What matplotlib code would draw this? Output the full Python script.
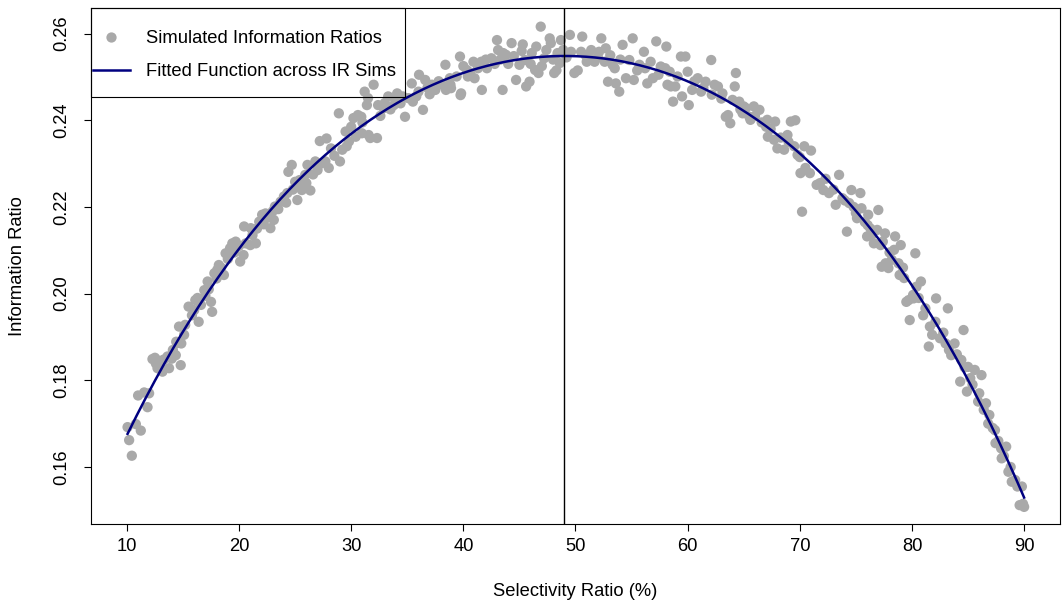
import numpy as np
import matplotlib
matplotlib.use("Agg")
import matplotlib.pyplot as plt
from matplotlib.patches import Rectangle
from matplotlib.lines import Line2D

plt.rcParams['font.family'] = ['Liberation Sans', 'DejaVu Sans']

# ---- data: selectivity ratio (%) and simulated information ratios ----
sel_lo = [10.06, 10.20, 10.44, 10.80, 11.00, 11.24, 11.54, 11.84, 11.98, 12.28,
          12.50, 12.58, 12.73, 12.90, 13.00, 13.17, 13.30, 13.62, 13.76, 14.00,
          14.10, 14.36, 14.40, 14.50, 14.65, 14.80, 14.85, 15.10, 15.20, 15.50,
          15.80, 16.00, 16.10, 16.30, 16.40, 16.60, 16.90, 17.00, 17.20, 17.30,
          17.50, 17.60, 17.80, 18.00, 18.06, 18.20, 18.40, 18.65, 18.80, 19.00,
          19.20, 19.40, 19.60, 19.70, 20.00, 20.10, 20.40, 20.45, 20.60, 21.00,
          21.05, 21.20, 21.50, 21.60, 21.80, 22.06, 22.20, 22.36, 22.50, 22.80,
          23.00, 23.10, 23.20, 23.50, 23.70, 24.00, 24.20, 24.30, 24.40, 24.70,
          24.80, 25.00, 25.20, 25.25, 25.40, 25.60, 25.90, 26.00, 26.10, 26.36,
          26.60, 26.80, 27.00, 27.20, 27.30, 27.70, 27.80, 28.00, 28.20, 28.50,
          28.90, 29.00, 29.20, 29.50, 29.60, 29.80]
ir_lo = [0.1692, 0.1662, 0.1626, 0.1699, 0.1765, 0.1684, 0.1772, 0.1738, 0.1770, 0.1849,
         0.1852, 0.1839, 0.1828, 0.1845, 0.1832, 0.1820, 0.1848, 0.1855, 0.1828, 0.1850,
         0.1870, 0.1858, 0.1889, 0.1886, 0.1924, 0.1835, 0.1885, 0.1905, 0.1928, 0.1970,
         0.1950, 0.1962, 0.1985, 0.1990, 0.1935, 0.1974, 0.2008, 0.1995, 0.2028, 0.2010,
         0.1981, 0.1958, 0.2047, 0.2035, 0.2055, 0.2066, 0.2060, 0.2043, 0.2093, 0.2080,
         0.2105, 0.2116, 0.2095, 0.2120, 0.2110, 0.2074, 0.2089, 0.2155, 0.2116, 0.2112,
         0.2151, 0.2135, 0.2116, 0.2150, 0.2166, 0.2182, 0.2160, 0.2185, 0.2175, 0.2151,
         0.2190, 0.2170, 0.2201, 0.2195, 0.2212, 0.2224, 0.2210, 0.2232, 0.2281, 0.2297,
         0.2240, 0.2258, 0.2216, 0.2247, 0.2262, 0.2239, 0.2274, 0.2255, 0.2297, 0.2238,
         0.2275, 0.2305, 0.2285, 0.2352, 0.2300, 0.2305, 0.2358, 0.2290, 0.2335, 0.2318,
         0.2416, 0.2305, 0.2332, 0.2374, 0.2340, 0.2351]

sel_mid = [30.00, 30.20, 30.40, 30.60, 30.90, 30.95, 31.00, 31.20, 31.40, 31.50,
           31.55, 31.70, 32.00, 32.30, 32.40, 32.60, 32.90, 33.00, 33.30, 33.50,
           33.80, 34.00, 34.10, 34.40, 34.60, 34.80, 35.10, 35.40, 35.50, 35.80,
           36.00, 36.05, 36.40, 36.60, 36.80, 37.00, 37.20, 37.50, 37.80, 38.10,
           38.40, 38.45, 38.80, 38.85, 38.90, 39.40, 39.70, 39.75, 39.80, 40.00,
           40.30, 40.40, 40.60, 40.90, 41.00, 41.30, 41.60, 41.65, 42.00, 42.10,
           42.50, 42.80, 43.00, 43.10, 43.30, 43.50, 43.55, 43.80, 44.00, 44.30,
           44.50, 44.70, 45.00, 45.20, 45.30, 45.50, 45.60, 45.90, 46.00, 46.10,
           46.40, 46.50, 46.70, 46.90, 47.00, 47.20, 47.40, 47.70, 47.80, 48.00,
           48.10, 48.30, 48.40, 48.60, 48.70, 48.90, 49.20, 49.50, 49.60, 49.90,
           50.20, 50.50, 50.60, 50.90, 51.00, 51.20, 51.40, 51.70, 52.00, 52.10,
           52.30, 52.60, 52.70, 52.90, 53.10, 53.30, 53.50, 53.60, 53.90, 54.00,
           54.20, 54.50, 54.80, 55.10, 55.20, 55.50, 55.70, 56.10, 56.20, 56.40,
           56.70, 56.90, 57.20, 57.40, 57.60, 58.00, 58.10, 58.20, 58.40, 58.50,
           58.70, 58.90, 59.10, 59.40, 59.50, 59.80]
ir_mid = [0.2385, 0.2405, 0.2362, 0.2412, 0.2408, 0.2370, 0.2395, 0.2466, 0.2435, 0.2451,
          0.2366, 0.2359, 0.2482, 0.2359, 0.2435, 0.2410, 0.2428, 0.2440, 0.2455, 0.2425,
          0.2435, 0.2448, 0.2462, 0.2439, 0.2455, 0.2408, 0.2451, 0.2485, 0.2443, 0.2455,
          0.2466, 0.2505, 0.2424, 0.2493, 0.2475, 0.2460, 0.2482, 0.2470, 0.2490, 0.2482,
          0.2528, 0.2470, 0.2497, 0.2482, 0.2474, 0.2501, 0.2547, 0.2458, 0.2462, 0.2525,
          0.2516, 0.2501, 0.2510, 0.2535, 0.2497, 0.2520, 0.2535, 0.2470, 0.2540, 0.2520,
          0.2543, 0.2530, 0.2585, 0.2562, 0.2540, 0.2470, 0.2555, 0.2551, 0.2530, 0.2578,
          0.2548, 0.2493, 0.2528, 0.2560, 0.2575, 0.2539, 0.2478, 0.2489, 0.2530, 0.2555,
          0.2516, 0.2570, 0.2509, 0.2616, 0.2525, 0.2543, 0.2562, 0.2589, 0.2578, 0.2540,
          0.2509, 0.2515, 0.2555, 0.2532, 0.2585, 0.2562, 0.2545, 0.2597, 0.2558, 0.2509,
          0.2515, 0.2558, 0.2593, 0.2550, 0.2535, 0.2548, 0.2562, 0.2535, 0.2545, 0.2558,
          0.2589, 0.2535, 0.2566, 0.2489, 0.2550, 0.2528, 0.2520, 0.2485, 0.2466, 0.2540,
          0.2574, 0.2497, 0.2539, 0.2589, 0.2493, 0.2515, 0.2528, 0.2558, 0.2520, 0.2485,
          0.2535, 0.2497, 0.2582, 0.2505, 0.2524, 0.2520, 0.2570, 0.2482, 0.2512, 0.2478,
          0.2443, 0.2478, 0.2501, 0.2547, 0.2455, 0.2547]

sel_hi = [60.00, 60.10, 60.40, 60.60, 60.90, 61.20, 61.40, 61.60, 62.10, 62.15,
          62.40, 62.70, 63.00, 63.10, 63.40, 63.60, 63.80, 64.00, 64.20, 64.30,
          64.60, 64.70, 64.90, 65.00, 65.20, 65.50, 65.60, 65.90, 66.00, 66.40,
          66.60, 67.00, 67.10, 67.15, 67.40, 67.70, 67.80, 68.00, 68.30, 68.60,
          68.90, 69.00, 69.20, 69.50, 69.60, 69.80, 70.00, 70.06, 70.20, 70.40,
          70.50, 70.90, 71.00, 71.50, 71.80, 72.10, 72.30, 72.60, 73.00, 73.20,
          73.50, 73.80, 74.00, 74.20, 74.40, 74.60, 74.80, 75.00, 75.10, 75.40,
          75.50, 75.80, 76.00, 76.05, 76.10, 76.30, 76.40, 76.60, 76.90, 77.00,
          77.20, 77.30, 77.40, 77.60, 77.65, 77.90, 78.00, 78.20, 78.40, 78.50,
          78.80, 78.90, 79.00, 79.20, 79.30, 79.50, 79.70, 79.80, 80.10, 80.15,
          80.30, 80.40, 80.60, 80.80, 81.00, 81.20, 81.50, 81.60, 81.80, 82.10,
          82.15, 82.50, 82.80, 83.00, 83.20, 83.30, 83.50, 83.80, 84.00, 84.30,
          84.40, 84.60, 84.70, 84.90, 85.00, 85.20, 85.40, 85.60, 85.90, 86.00,
          86.20, 86.40, 86.60, 86.80, 86.90, 87.20, 87.40, 87.45, 87.70, 87.95,
          88.00, 88.20, 88.40, 88.60, 88.80, 88.90, 89.20, 89.40, 89.60, 89.80,
          89.90, 90.00]
ir_hi = [0.2512, 0.2435, 0.2470, 0.2490, 0.2497, 0.2466, 0.2475, 0.2489, 0.2539, 0.2459,
         0.2482, 0.2478, 0.2450, 0.2462, 0.2408, 0.2412, 0.2393, 0.2447, 0.2478, 0.2509,
         0.2443, 0.2425, 0.2416, 0.2432, 0.2428, 0.2408, 0.2401, 0.2432, 0.2410, 0.2424,
         0.2395, 0.2385, 0.2401, 0.2362, 0.2380, 0.2355, 0.2397, 0.2335, 0.2360, 0.2332,
         0.2366, 0.2350, 0.2397, 0.2340, 0.2400, 0.2320, 0.2315, 0.2278, 0.2189, 0.2340,
         0.2290, 0.2278, 0.2330, 0.2251, 0.2255, 0.2239, 0.2265, 0.2232, 0.2240, 0.2205,
         0.2274, 0.2220, 0.2215, 0.2143, 0.2209, 0.2239, 0.2200, 0.2186, 0.2174, 0.2232,
         0.2197, 0.2165, 0.2132, 0.2158, 0.2182, 0.2150, 0.2135, 0.2116, 0.2147, 0.2193,
         0.2112, 0.2062, 0.2120, 0.2139, 0.2070, 0.2059, 0.2095, 0.2078, 0.2101, 0.2132,
         0.2070, 0.2043, 0.2112, 0.2060, 0.2036, 0.1981, 0.1985, 0.1939, 0.1997, 0.1989,
         0.2093, 0.2016, 0.1990, 0.2028, 0.1950, 0.1966, 0.1878, 0.1924, 0.1905, 0.1935,
         0.1989, 0.1897, 0.1910, 0.1885, 0.1966, 0.1870, 0.1858, 0.1885, 0.1860, 0.1797,
         0.1847, 0.1916, 0.1830, 0.1774, 0.1831, 0.1805, 0.1790, 0.1824, 0.1751, 0.1770,
         0.1812, 0.1732, 0.1747, 0.1700, 0.1720, 0.1690, 0.1685, 0.1655, 0.1660, 0.1643,
         0.1620, 0.1625, 0.1647, 0.1589, 0.1600, 0.1566, 0.1570, 0.1555, 0.1512, 0.1555,
         0.1515, 0.1508]

x_ticks = [10, 20, 30, 40, 50, 60, 70, 80, 90]
y_ticks = [0.16, 0.18, 0.20, 0.22, 0.24, 0.26]
peak_sel = 49

sel = np.array(sel_lo + sel_mid + sel_hi)
ir = np.array(ir_lo + ir_mid + ir_hi)

# fitted function across the simulations
coef = np.polyfit(sel, ir, 4)
fx = np.linspace(sel.min(), sel.max(), 400)
fy = np.polyval(coef, fx)

W, H, DPI = 1063, 602, 100
fig = plt.figure(figsize=(W / DPI, H / DPI), dpi=DPI)
L, R, T, B = 91, 1060, 8, 524
ax = fig.add_axes([L / W, (H - B) / H, (R - L) / W, (B - T) / H])

ax.scatter(sel, ir, s=55, color='#A9A9A9', edgecolors='none', zorder=2)
ax.plot(fx, fy, color='#000080', lw=1.8, zorder=3)
ax.axvline(peak_sel, color='black', lw=1.0, zorder=4)

ax.set_xlim(6.8, 93.2)
ax.set_ylim(0.14685, 0.2659)
ax.set_xticks(x_ticks)
ax.set_xticklabels([str(v) for v in x_ticks])
ax.set_yticks(y_ticks)
ax.set_yticklabels([f"{v:.2f}" for v in y_ticks], rotation=90, va='center')

fs = 13.2
ax.tick_params(axis='both', direction='out', length=5, width=0.8,
               labelsize=fs, color='black')
ax.tick_params(axis='x', pad=5)
ax.tick_params(axis='y', pad=10)
for sp in ax.spines.values():
    sp.set_linewidth(0.8)
    sp.set_color('black')

ax.set_xlabel("Selectivity Ratio (%)", fontsize=fs, labelpad=20.5)
ax.set_ylabel("Information Ratio", fontsize=fs, labelpad=19.5)

# legend box (R-style, transparent)
bx1 = (405 - L) / (R - L)
by0 = (B - 97) / (B - T)
ax.add_patch(Rectangle((0.0, by0), bx1, 1 - by0, transform=ax.transAxes,
                       fill=False, edgecolor='black', lw=0.8, zorder=5,
                       clip_on=False))
h1 = Line2D([], [], ls='none', marker='o', markersize=7.4, color='#A9A9A9',
            markeredgecolor='none')
h2 = Line2D([], [], color='#000080', lw=1.8)
leg = ax.legend([h1, h2], ["Simulated Information Ratios",
                           "Fitted Function across IR Sims"],
                loc='upper left',
                bbox_to_anchor=((93 - L) / (R - L), (B - 30) / (B - T)),
                frameon=False, fontsize=fs, borderpad=0, borderaxespad=0,
                handlelength=2.0, handletextpad=0.9, labelspacing=0.9)

fig.savefig("out.png", dpi=DPI)
